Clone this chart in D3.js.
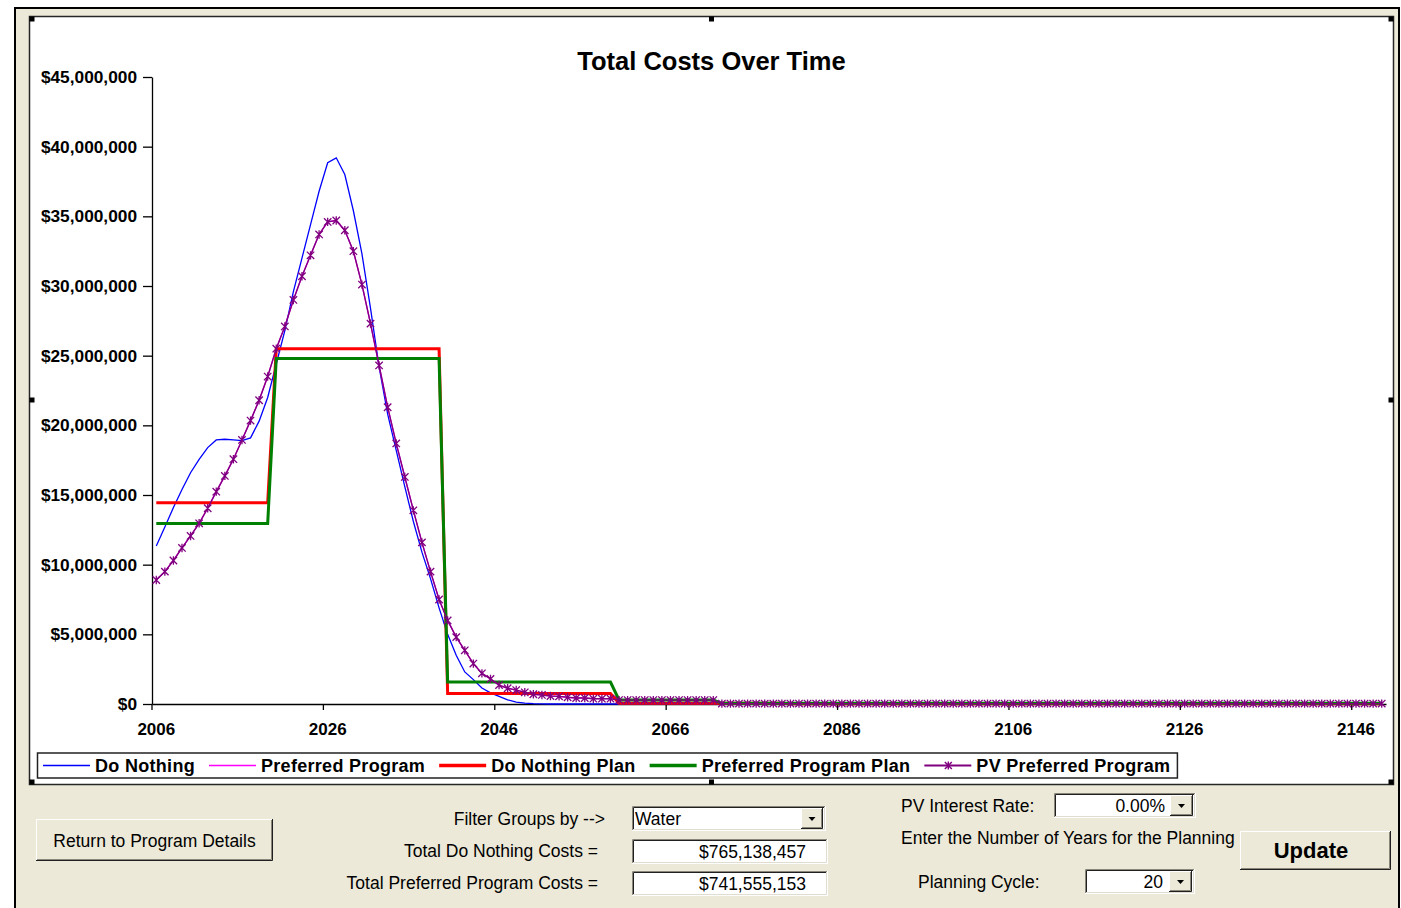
<!DOCTYPE html>
<html>
<head>
<meta charset="utf-8">
<title>Total Costs Over Time</title>
<script src="https://cdn.jsdelivr.net/npm/d3@7"></script>
<style>
  html, body { margin: 0; padding: 0; background: #fff; }
  svg { display: block; font-family: "Liberation Sans", Arial, sans-serif; }
</style>
</head>
<body>
<svg id="chart" width="1401" height="908"></svg>
<script>
// ---- Data (costs in millions of dollars, one value per year 2006–2149) ----
const years = d3.range(2006, 2150);
const xTickYears = [2006, 2026, 2046, 2066, 2086, 2106, 2126, 2146];
const yTickValues = [0, 5, 10, 15, 20, 25, 30, 35, 40, 45];

const doNothing = [
  11.34, 12.7, 14.1, 15.4, 16.6, 17.55, 18.4, 18.95, 19.0, 18.95, 18.9, 19.1, 20.3, 22.0, 24.4, 26.8, 29.6, 32.0, 34.4, 36.8,
  38.85, 39.2, 38.0, 35.4, 32.3, 28.4, 24.2, 20.8, 18.2, 15.6, 13.1, 10.9, 9.0, 6.9, 5.0, 3.5, 2.3, 1.75, 1.15, 0.8,
  0.55, 0.3, 0.14, 0.07, 0.03, 0.01, 0, 0, 0, 0, 0, 0, 0, 0, 0, 0, 0, 0, 0, 0,
  0, 0, 0, 0, 0, 0, 0, 0, 0, 0, 0, 0, 0, 0, 0, 0, 0, 0, 0, 0,
  0, 0, 0, 0, 0, 0, 0, 0, 0, 0, 0, 0, 0, 0, 0, 0, 0, 0, 0, 0,
  0, 0, 0, 0, 0, 0, 0, 0, 0, 0, 0, 0, 0, 0, 0, 0, 0, 0, 0, 0,
  0, 0, 0, 0, 0, 0, 0, 0, 0, 0, 0, 0, 0, 0, 0, 0, 0, 0, 0, 0,
  0, 0, 0, 0
];

const preferredProgram = [
  8.9, 9.5, 10.3, 11.2, 12.06, 12.97, 14.05, 15.24, 16.37, 17.57, 18.95, 20.34, 21.8, 23.5, 25.5, 27.1, 29.0, 30.7, 32.2, 33.7,
  34.6, 34.7, 34.0, 32.5, 30.1, 27.3, 24.3, 21.3, 18.7, 16.3, 13.9, 11.6, 9.5, 7.5, 6.0, 4.8, 3.85, 2.9, 2.2, 1.8,
  1.36, 1.13, 1.0, 0.84, 0.7, 0.65, 0.57, 0.55, 0.48, 0.43, 0.43, 0.38, 0.38, 0.38, 0.28, 0.28, 0.28, 0.28, 0.28, 0.28,
  0.28, 0.28, 0.28, 0.28, 0.28, 0.28, 0.03, 0.03, 0.03, 0.03, 0.03, 0.03, 0.03, 0.03, 0.03, 0.03, 0.03, 0.03, 0.03, 0.03,
  0.03, 0.03, 0.03, 0.03, 0.03, 0.03, 0.03, 0.03, 0.03, 0.03, 0.03, 0.03, 0.03, 0.03, 0.03, 0.03, 0.03, 0.03, 0.03, 0.03,
  0.03, 0.03, 0.03, 0.03, 0.03, 0.03, 0.03, 0.03, 0.03, 0.03, 0.03, 0.03, 0.03, 0.03, 0.03, 0.03, 0.03, 0.03, 0.03, 0.03,
  0.03, 0.03, 0.03, 0.03, 0.03, 0.03, 0.03, 0.03, 0.03, 0.03, 0.03, 0.03, 0.03, 0.03, 0.03, 0.03, 0.03, 0.03, 0.03, 0.03,
  0.03, 0.03, 0.03, 0.03
];

const doNothingPlan = [
  14.45, 14.45, 14.45, 14.45, 14.45, 14.45, 14.45, 14.45, 14.45, 14.45, 14.45, 14.45, 14.45, 14.45, 25.5, 25.5, 25.5, 25.5, 25.5, 25.5,
  25.5, 25.5, 25.5, 25.5, 25.5, 25.5, 25.5, 25.5, 25.5, 25.5, 25.5, 25.5, 25.5, 25.5, 0.75, 0.75, 0.75, 0.75, 0.75, 0.75,
  0.75, 0.75, 0.75, 0.75, 0.75, 0.75, 0.75, 0.75, 0.75, 0.75, 0.75, 0.75, 0.75, 0.75, 0.05, 0.05, 0.05, 0.05, 0.05, 0.05,
  0.05, 0.05, 0.05, 0.05, 0.05, 0.05, 0.05, 0.05, 0.05, 0.05, 0.05, 0.05, 0.05, 0.05, 0.01, 0.01, 0.01, 0.01, 0.01, 0.01,
  0.01, 0.01, 0.01, 0.01, 0.01, 0.01, 0.01, 0.01, 0.01, 0.01, 0.01, 0.01, 0.01, 0.01, 0.01, 0.01, 0.01, 0.01, 0.01, 0.01,
  0.01, 0.01, 0.01, 0.01, 0.01, 0.01, 0.01, 0.01, 0.01, 0.01, 0.01, 0.01, 0.01, 0.01, 0.01, 0.01, 0.01, 0.01, 0.01, 0.01,
  0.01, 0.01, 0.01, 0.01, 0.01, 0.01, 0.01, 0.01, 0.01, 0.01, 0.01, 0.01, 0.01, 0.01, 0.01, 0.01, 0.01, 0.01, 0.01, 0.01,
  0.01, 0.01, 0.01, 0.01
];

const preferredProgramPlan = [
  12.95, 12.95, 12.95, 12.95, 12.95, 12.95, 12.95, 12.95, 12.95, 12.95, 12.95, 12.95, 12.95, 12.95, 24.8, 24.8, 24.8, 24.8, 24.8, 24.8,
  24.8, 24.8, 24.8, 24.8, 24.8, 24.8, 24.8, 24.8, 24.8, 24.8, 24.8, 24.8, 24.8, 24.8, 1.58, 1.58, 1.58, 1.58, 1.58, 1.58,
  1.58, 1.58, 1.58, 1.58, 1.58, 1.58, 1.58, 1.58, 1.58, 1.58, 1.58, 1.58, 1.58, 1.58, 0.29, 0.29, 0.29, 0.29, 0.29, 0.29,
  0.29, 0.29, 0.29, 0.29, 0.29, 0.29, 0.05, 0.05, 0.05, 0.05, 0.05, 0.05, 0.05, 0.05, 0.05, 0.05, 0.05, 0.05, 0.05, 0.05,
  0.05, 0.05, 0.05, 0.05, 0.05, 0.05, 0.05, 0.05, 0.05, 0.05, 0.05, 0.05, 0.05, 0.05, 0.05, 0.05, 0.05, 0.05, 0.05, 0.05,
  0.05, 0.05, 0.05, 0.05, 0.05, 0.05, 0.05, 0.05, 0.05, 0.05, 0.05, 0.05, 0.05, 0.05, 0.05, 0.05, 0.05, 0.05, 0.05, 0.05,
  0.05, 0.05, 0.05, 0.05, 0.05, 0.05, 0.05, 0.05, 0.05, 0.05, 0.05, 0.05, 0.05, 0.05, 0.05, 0.05, 0.05, 0.05, 0.05, 0.05,
  0.05, 0.05, 0.05, 0.05
];

// Present value of the preferred program (0.00% interest rate)
const pvPreferredProgram = [
  8.9, 9.5, 10.3, 11.2, 12.06, 12.97, 14.05, 15.24, 16.37, 17.57, 18.95, 20.34, 21.8, 23.5, 25.5, 27.1, 29.0, 30.7, 32.2, 33.7,
  34.6, 34.7, 34.0, 32.5, 30.1, 27.3, 24.3, 21.3, 18.7, 16.3, 13.9, 11.6, 9.5, 7.5, 6.0, 4.8, 3.85, 2.9, 2.2, 1.8,
  1.36, 1.13, 1.0, 0.84, 0.7, 0.65, 0.57, 0.55, 0.48, 0.43, 0.43, 0.38, 0.38, 0.38, 0.28, 0.28, 0.28, 0.28, 0.28, 0.28,
  0.28, 0.28, 0.28, 0.28, 0.28, 0.28, 0.03, 0.03, 0.03, 0.03, 0.03, 0.03, 0.03, 0.03, 0.03, 0.03, 0.03, 0.03, 0.03, 0.03,
  0.03, 0.03, 0.03, 0.03, 0.03, 0.03, 0.03, 0.03, 0.03, 0.03, 0.03, 0.03, 0.03, 0.03, 0.03, 0.03, 0.03, 0.03, 0.03, 0.03,
  0.03, 0.03, 0.03, 0.03, 0.03, 0.03, 0.03, 0.03, 0.03, 0.03, 0.03, 0.03, 0.03, 0.03, 0.03, 0.03, 0.03, 0.03, 0.03, 0.03,
  0.03, 0.03, 0.03, 0.03, 0.03, 0.03, 0.03, 0.03, 0.03, 0.03, 0.03, 0.03, 0.03, 0.03, 0.03, 0.03, 0.03, 0.03, 0.03, 0.03,
  0.03, 0.03, 0.03, 0.03
];

const seriesNames = ["Do Nothing", "Preferred Program", "Do Nothing Plan", "Preferred Program Plan", "PV Preferred Program"];
const seriesValues = [doNothing, preferredProgram, doNothingPlan, preferredProgramPlan, pvPreferredProgram];

// Form field contents
const filterGroup = "Water";
const totalDoNothingCosts = "$765,138,457";
const totalPreferredCosts = "$741,555,153";
const pvInterestRate = "0.00%";
const planningCycle = "20";

// ---- Styles ----
const seriesStyle = [
  { color: "#0000FF", width: 1.3, marker: false },
  { color: "#FF00FF", width: 1.3, marker: false },
  { color: "#FF0000", width: 3, marker: false },
  { color: "#008000", width: 3, marker: false },
  { color: "#800080", width: 1.4, marker: true }
];
const FACE = "#ECE9D8";
const UI_SIZE = 17.5;

const svg = d3.select("#chart");

// Window frame and chart area
svg.append("rect").attr("x", 15).attr("y", 8).attr("width", 1384).attr("height", 910)
  .attr("fill", FACE).attr("stroke", "#000").attr("stroke-width", 2);
svg.append("rect").attr("x", 29.5).attr("y", 16.5).attr("width", 1364).attr("height", 768)
  .attr("fill", "#fff").attr("stroke", "#262626").attr("stroke-width", 1.5);

// Scales
const x = d3.scaleBand().domain(years).range([152, 1386]).paddingInner(0).paddingOuter(0);
const bw = x.bandwidth();
const y = d3.scaleLinear().domain([0, 45]).range([704, 77]);
const cx = (i) => x(years[i]) + bw / 2;

// Title
svg.append("text").attr("x", 711.5).attr("y", 70).attr("text-anchor", "middle")
  .attr("font-size", 25.5).attr("font-weight", "bold").attr("fill", "#000")
  .text("Total Costs Over Time");

// Y axis
const yAxis = d3.axisLeft(y).tickValues(yTickValues).tickSizeInner(9).tickSizeOuter(0).tickPadding(6)
  .tickFormat(d => "$" + d3.format(",")(d * 1e6));
const gy = svg.append("g").attr("transform", "translate(152,0)").call(yAxis);
gy.selectAll("text").attr("font-size", 17.3).attr("font-weight", "bold").attr("fill", "#000")
  .attr("font-family", "'Liberation Sans', Arial, sans-serif");
gy.selectAll("path, line").attr("stroke", "#000").attr("stroke-width", 1.3);

// X axis: ticks on category boundaries, labels centred on the category
const xAxis = d3.axisBottom(x).tickValues(xTickYears).tickSizeInner(6).tickSizeOuter(0).tickPadding(13);
const gx = svg.append("g").attr("transform", "translate(0,704)").call(xAxis);
gx.selectAll(".tick line").attr("transform", `translate(${-bw / 2},0)`);
gx.selectAll("text").attr("font-size", 17).attr("font-weight", "bold").attr("fill", "#000")
  .attr("font-family", "'Liberation Sans', Arial, sans-serif");
gx.selectAll("path, line").attr("stroke", "#000").attr("stroke-width", 1.3);

// Series lines
const line = d3.line().x((d, i) => cx(i)).y(d => y(d));
const starPath = (r) => `M${-r},${-r}L${r},${r}M${-r},${r}L${r},${-r}M0,${-r - 0.5}L0,${r + 0.5}`;

const plot = svg.append("g");
seriesValues.forEach((vals, s) => {
  const st = seriesStyle[s];
  plot.append("path").datum(vals).attr("d", line)
    .attr("fill", "none").attr("stroke", st.color).attr("stroke-width", st.width)
    .attr("stroke-linejoin", "miter");
  if (st.marker) {
    plot.append("g").selectAll("path").data(vals).join("path")
      .attr("transform", (d, i) => `translate(${cx(i)},${y(d)})`)
      .attr("d", starPath(3.7))
      .attr("fill", "none").attr("stroke", st.color).attr("stroke-width", 1.3);
  }
});

// Legend
const legend = svg.append("g");
const legendBox = legend.append("rect").attr("y", 753).attr("height", 25)
  .attr("fill", "#fff").attr("stroke", "#222").attr("stroke-width", 1.5);
let lx = 47;
seriesNames.forEach((name, s) => {
  const st = seriesStyle[s];
  legend.append("line").attr("x1", lx - 4).attr("x2", lx + 43).attr("y1", 765.5).attr("y2", 765.5)
    .attr("stroke", st.color).attr("stroke-width", st.width + 0.4);
  if (st.marker) {
    legend.append("path").attr("transform", `translate(${lx + 20},765.5)`).attr("d", starPath(3.5))
      .attr("fill", "none").attr("stroke", st.color).attr("stroke-width", 1.4);
  }
  const t = legend.append("text").attr("x", lx + 48).attr("y", 771.5)
    .attr("font-size", 18).attr("font-weight", "bold").attr("letter-spacing", 0.3).attr("fill", "#000")
    .text(name);
  lx = lx + 48 + t.node().getComputedTextLength() + 18;
});
legendBox.attr("x", 37.5).attr("width", lx - 18 + 7 - 37.5);

// Selection handles on the chart area
const hs = 5;
[[29.5, 16.5], [711.5 - hs / 2, 16.5], [1393.5 - hs, 16.5],
 [29.5, 400 - hs / 2], [1393.5 - hs, 400 - hs / 2],
 [29.5, 784.5 - hs], [711.5 - hs / 2, 784.5 - hs], [1393.5 - hs, 784.5 - hs]]
  .forEach(([hx, hy]) => svg.append("rect").attr("x", hx).attr("y", hy).attr("width", hs).attr("height", hs).attr("fill", "#000"));

// ---- Form controls ----
const ui = svg.append("g").attr("font-size", UI_SIZE).attr("fill", "#000");

function edge(g, d, color) {
  g.append("path").attr("d", d).attr("fill", "none").attr("stroke", color).attr("stroke-width", 1);
}
function raised(g, bx, by, w, h) {
  g.append("rect").attr("x", bx).attr("y", by).attr("width", w).attr("height", h).attr("fill", FACE);
  edge(g, `M${bx + 0.5},${by + h - 1}V${by + 0.5}H${bx + w - 1}`, "#fff");
  edge(g, `M${bx},${by + h - 0.5}H${bx + w - 0.5}V${by}`, "#202020");
  edge(g, `M${bx + 1},${by + h - 1.5}H${bx + w - 1.5}V${by + 1}`, "#8a877a");
}
function sunken(g, bx, by, w, h) {
  g.append("rect").attr("x", bx).attr("y", by).attr("width", w).attr("height", h).attr("fill", "#fff");
  edge(g, `M${bx + 0.5},${by + h}V${by + 0.5}H${bx + w}`, "#8a877a");
  edge(g, `M${bx + 1.5},${by + h - 1}V${by + 1.5}H${bx + w - 1}`, "#202020");
  edge(g, `M${bx},${by + h - 0.5}H${bx + w - 0.5}V${by}`, "#fff");
  edge(g, `M${bx + 1},${by + h - 1.5}H${bx + w - 1.5}V${by + 1}`, "#e0ddd0");
}
function dropButton(g, bx, by, w, h) {
  raised(g, bx, by, w, h);
  const mx = bx + w / 2, my = by + h / 2;
  g.append("path").attr("d", `M${mx - 3.5},${my - 1.5}H${mx + 3.5}L${mx},${my + 2.5}Z`).attr("fill", "#000");
}
function label(g, tx, ty, text, anchor, extra) {
  const t = g.append("text").attr("x", tx).attr("y", ty).attr("text-anchor", anchor || "start").text(text);
  if (extra) extra(t);
  return t;
}

// Return button
raised(ui, 36, 819, 237, 42);
label(ui, 154.5, 846.5, "Return to Program Details", "middle");

// Filter and totals
label(ui, 605, 825, "Filter Groups by -->", "end");
label(ui, 598, 857, "Total Do Nothing Costs =", "end");
label(ui, 598, 889, "Total Preferred Program Costs =", "end");

sunken(ui, 632, 806, 194, 25);
label(ui, 635, 824.5, filterGroup, "start");
dropButton(ui, 801, 808, 22, 21);

sunken(ui, 632, 839, 196, 25);
label(ui, 806, 857.5, totalDoNothingCosts, "end");
sunken(ui, 632, 871, 196, 25);
label(ui, 806, 889.5, totalPreferredCosts, "end");

// Interest rate and planning cycle
label(ui, 901, 812, "PV Interest Rate:", "start");
sunken(ui, 1054, 793, 142, 25);
label(ui, 1165, 811.5, pvInterestRate, "end");
dropButton(ui, 1170, 795, 23, 21);

label(ui, 901, 844, "Enter the Number of Years for the Planning", "start");

label(ui, 918, 888, "Planning Cycle:", "start");
sunken(ui, 1085, 869, 110, 25);
label(ui, 1163, 887.5, planningCycle, "end");
dropButton(ui, 1169, 871, 23, 21);

// Update button
raised(ui, 1240, 831, 151, 39);
label(ui, 1311, 858, "Update", "middle", t => t.attr("font-size", 22).attr("font-weight", "bold"));
</script>
</body>
</html>
